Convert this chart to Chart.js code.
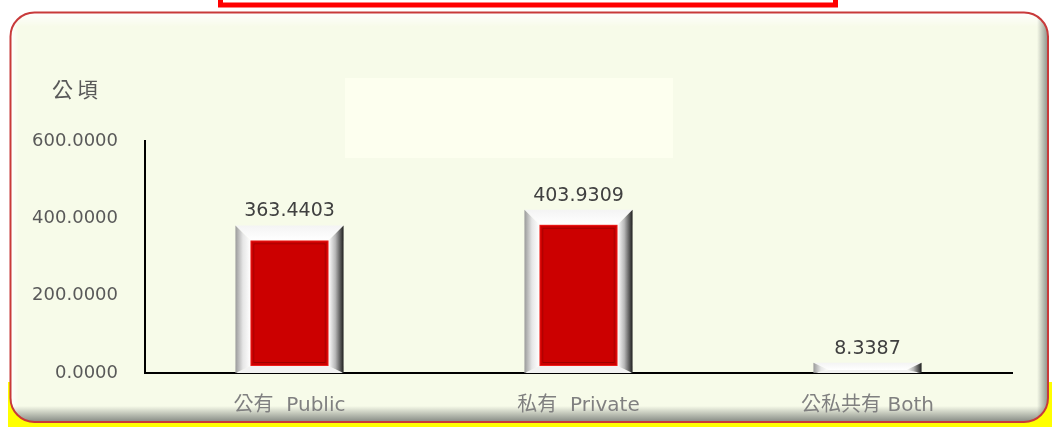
<!DOCTYPE html>
<html>
<head>
<meta charset="utf-8">
<script src="https://cdn.jsdelivr.net/npm/chart.js@4"></script>
<style>
  html, body { margin: 0; padding: 0; background: #ffffff; }
  #landChart { display: block; }
</style>
</head>
<body>
<canvas id="landChart" width="1052" height="427"></canvas>
<script>
// --- data ---
const categories = ['公有  Public', '私有  Private', '公私共有 Both'];
const areaValues = [363.4403, 403.9309, 8.3387];
const yTicks = [0, 200, 400, 600];
const unitLabel = '公頃';

const FONT = "'DejaVu Sans', 'Noto Sans CJK TC', sans-serif";

// panel behind the chart (rounded box, yellow strip, red header box)
const panelPlugin = {
    id: 'panel',
    beforeDraw(chart) {
        const ctx = chart.ctx;
        ctx.save();
        ctx.fillStyle = '#ffffff';
        ctx.fillRect(0, 0, chart.width, chart.height);

        // yellow strip at the bottom
        ctx.fillStyle = '#ffff00';
        ctx.fillRect(8, 382, chart.width - 8, chart.height - 382);

        // red header box cut by the top edge
        ctx.strokeStyle = '#ff0000';
        ctx.lineWidth = 5;
        ctx.strokeRect(220.5, -10, 615, 15);

        // rounded panel
        const x0 = 10.5, y0 = 12.5, x1 = 1048, y1 = 422, r = 24;
        ctx.beginPath();
        ctx.roundRect(x0, y0, x1 - x0, y1 - y0, r);
        ctx.fillStyle = '#f7fbe9';
        ctx.fill();

        ctx.save();
        ctx.clip();
        // top highlight
        let g = ctx.createLinearGradient(0, y0, 0, y0 + 14);
        g.addColorStop(0, 'rgba(255,255,255,1)');
        g.addColorStop(1, 'rgba(255,255,255,0)');
        ctx.fillStyle = g;
        ctx.fillRect(x0, y0, x1 - x0, 14);
        // left highlight
        g = ctx.createLinearGradient(x0, 0, x0 + 8, 0);
        g.addColorStop(0, 'rgba(255,255,255,1)');
        g.addColorStop(1, 'rgba(255,255,255,0)');
        ctx.fillStyle = g;
        ctx.fillRect(x0, y0, 8, y1 - y0);
        // bottom shadow
        g = ctx.createLinearGradient(0, y1 - 16, 0, y1);
        g.addColorStop(0, 'rgba(120,125,120,0)');
        g.addColorStop(1, 'rgba(120,125,120,0.9)');
        ctx.fillStyle = g;
        ctx.fillRect(x0, y1 - 16, x1 - x0, 16);
        // right shadow
        g = ctx.createLinearGradient(x1 - 11, 0, x1, 0);
        g.addColorStop(0, 'rgba(120,125,120,0)');
        g.addColorStop(1, 'rgba(120,125,120,0.85)');
        ctx.fillStyle = g;
        ctx.fillRect(x1 - 11, y0, 11, y1 - y0);
        ctx.restore();

        ctx.beginPath();
        ctx.roundRect(x0, y0, x1 - x0, y1 - y0, r);
        ctx.strokeStyle = '#c83a3a';
        ctx.lineWidth = 2;
        ctx.stroke();

        // faint empty title block
        ctx.fillStyle = '#fdffef';
        ctx.fillRect(345, 78, 328, 80);

        // unit label above the value axis
        ctx.fillStyle = '#595959';
        ctx.font = '21px ' + FONT;
        ctx.letterSpacing = '4px';
        ctx.textAlign = 'left';
        ctx.textBaseline = 'middle';
        ctx.fillText(unitLabel, 52, 92);
        ctx.restore();
    }
};

// bevelled frame + red face on every bar, and the value labels
const bevelPlugin = {
    id: 'bevel',
    afterDatasetsDraw(chart) {
        const ctx = chart.ctx;
        const meta = chart.getDatasetMeta(0);
        ctx.save();
        meta.data.forEach((bar, i) => {
            const w = bar.width;
            const L = bar.x - w / 2, R = bar.x + w / 2;
            const T = bar.y - 7, B = bar.base;
            const H = B - T;
            const bt = Math.min(15, H * 0.7);
            const bb = Math.min(7, H - bt);
            const bs = Math.min(15, bt + 8);

            // top face
            let g = ctx.createLinearGradient(0, T, 0, T + bt);
            g.addColorStop(0, '#f4f4f4');
            g.addColorStop(1, '#ffffff');
            ctx.fillStyle = g;
            ctx.beginPath();
            ctx.moveTo(L, T); ctx.lineTo(R, T); ctx.lineTo(R - bs, T + bt); ctx.lineTo(L + bs, T + bt);
            ctx.closePath(); ctx.fill();

            // bottom face
            ctx.fillStyle = '#f2f2f2';
            ctx.beginPath();
            ctx.moveTo(L, B); ctx.lineTo(R, B); ctx.lineTo(R - bs, B - bb); ctx.lineTo(L + bs, B - bb);
            ctx.closePath(); ctx.fill();

            // left face
            g = ctx.createLinearGradient(L, 0, L + bs, 0);
            g.addColorStop(0, '#9a9a9a');
            g.addColorStop(0.5, '#e6e6e6');
            g.addColorStop(1, '#ffffff');
            ctx.fillStyle = g;
            ctx.beginPath();
            ctx.moveTo(L, T); ctx.lineTo(L + bs, T + bt); ctx.lineTo(L + bs, B - bb); ctx.lineTo(L, B);
            ctx.closePath(); ctx.fill();

            // right face
            g = ctx.createLinearGradient(R - bs, 0, R, 0);
            g.addColorStop(0, '#ffffff');
            g.addColorStop(0.45, '#b8b8b8');
            g.addColorStop(1, '#1e1e1e');
            ctx.fillStyle = g;
            ctx.beginPath();
            ctx.moveTo(R, T); ctx.lineTo(R - bs, T + bt); ctx.lineTo(R - bs, B - bb); ctx.lineTo(R, B);
            ctx.closePath(); ctx.fill();

            // red face
            const fh = H - bt - bb;
            if (fh > 2) {
                const fx = L + bs, fy = T + bt, fw = w - 2 * bs;
                ctx.fillStyle = '#ee1c1c';
                ctx.fillRect(fx, fy, fw, fh);
                ctx.fillStyle = '#cc0000';
                ctx.fillRect(fx + 1, fy + 1, fw - 2, fh - 2);
                ctx.strokeStyle = '#9e0000';
                ctx.lineWidth = 1;
                ctx.strokeRect(fx + 3.5, fy + 3.5, fw - 7, fh - 7);
                ctx.fillStyle = '#cc0000';
                ctx.fillRect(fx + 4, fy + 4, fw - 8, fh - 8);
            }

            // value label
            ctx.fillStyle = '#404040';
            ctx.font = '19px ' + FONT;
            ctx.textAlign = 'center';
            ctx.textBaseline = 'middle';
            ctx.fillText(areaValues[i].toFixed(4), bar.x, bar.y - 21);
        });
        ctx.restore();
    }
};

new Chart(document.getElementById('landChart'), {
    type: 'bar',
    data: {
        labels: categories,
        datasets: [{
            data: areaValues,
            backgroundColor: 'rgba(0,0,0,0)',
            borderWidth: 0,
            categoryPercentage: 1,
            barPercentage: 0.374
        }]
    },
    options: {
        responsive: false,
        devicePixelRatio: 1,
        animation: false,
        layout: { padding: { left: 0, top: 141, right: 40, bottom: 0 } },
        plugins: {
            legend: { display: false },
            tooltip: { enabled: false },
            title: { display: false }
        },
        scales: {
            x: {
                grid: { display: false, drawTicks: false },
                border: { display: true, color: '#000000', width: 2 },
                ticks: { color: '#808080', padding: 21, font: { family: FONT, size: 20 } },
                afterFit: (scale) => { scale.height = 54; }
            },
            y: {
                min: 0,
                max: 600,
                grid: { display: false, drawTicks: false },
                border: { display: true, color: '#000000', width: 2 },
                ticks: {
                    color: '#595959',
                    padding: 27,
                    font: { family: FONT, size: 18 },
                    callback: (v) => Number(v).toFixed(4)
                },
                afterBuildTicks: (scale) => { scale.ticks = yTicks.map(v => ({ value: v })); },
                afterFit: (scale) => { scale.width = 145; }
            }
        }
    },
    plugins: [panelPlugin, bevelPlugin]
});
</script>
</body>
</html>
